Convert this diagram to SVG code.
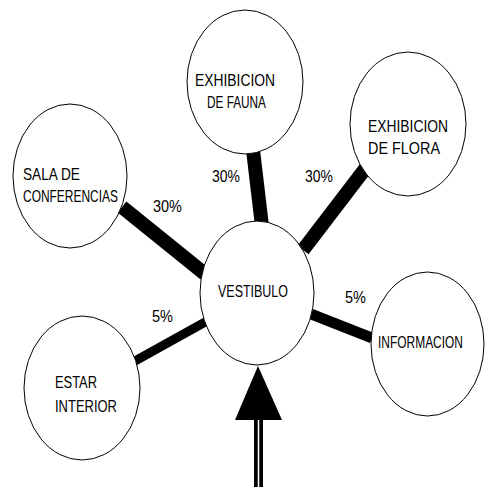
<svg xmlns="http://www.w3.org/2000/svg" width="485" height="487" viewBox="0 0 485 487">
<style>
.n{fill:#fff;stroke:#000;stroke-width:1}
.t{font-family:"Liberation Sans","DejaVu Sans",sans-serif;font-size:16.5px;fill:#000}
.c{stroke:#000;stroke-linecap:butt}
</style>
<rect width="485" height="487" fill="#fff"/>
<g id="connectors">
<line class="c" x1="253" y1="150" x2="262" y2="226" stroke-width="14"/>
<line class="c" x1="368" y1="165" x2="303" y2="250" stroke-width="14"/>
<line class="c" x1="122" y1="207" x2="205" y2="274" stroke-width="14"/>
<line class="c" x1="135" y1="361" x2="207" y2="321" stroke-width="9"/>
<line class="c" x1="311" y1="314" x2="372" y2="338" stroke-width="11"/>
<text class="t" x="212" y="182" textLength="28" lengthAdjust="spacingAndGlyphs">30%</text>
<text class="t" x="305" y="182" textLength="28" lengthAdjust="spacingAndGlyphs">30%</text>
<text class="t" x="153" y="212" textLength="29" lengthAdjust="spacingAndGlyphs">30%</text>
<text class="t" x="152" y="322" textLength="21" lengthAdjust="spacingAndGlyphs">5%</text>
<text class="t" x="345" y="303" textLength="21" lengthAdjust="spacingAndGlyphs">5%</text>
<polygon points="258,366 235,420 282,420" fill="#000"/>
<rect x="254" y="420" width="9" height="67" fill="#000"/>
<line x1="258.5" y1="420" x2="258.5" y2="487" stroke="#fff" stroke-width="1.5"/>
</g>
<g id="fauna">
<ellipse class="n" cx="245" cy="82" rx="58" ry="72"/>
<text class="t" x="195" y="86" textLength="80" lengthAdjust="spacingAndGlyphs">EXHIBICION</text>
<text class="t" x="207" y="108" textLength="59" lengthAdjust="spacingAndGlyphs">DE FAUNA</text>
</g>
<g id="flora">
<ellipse class="n" cx="408" cy="124" rx="58" ry="72"/>
<text class="t" x="368" y="132" textLength="80" lengthAdjust="spacingAndGlyphs">EXHIBICION</text>
<text class="t" x="368" y="154" textLength="72" lengthAdjust="spacingAndGlyphs">DE FLORA</text>
</g>
<g id="sala">
<ellipse class="n" cx="70" cy="176" rx="57" ry="72"/>
<text class="t" x="23" y="180" textLength="57" lengthAdjust="spacingAndGlyphs">SALA DE</text>
<text class="t" x="23" y="202" textLength="95" lengthAdjust="spacingAndGlyphs">CONFERENCIAS</text>
</g>
<g id="vestibulo">
<ellipse class="n" cx="257" cy="293" rx="57" ry="72"/>
<text class="t" x="218" y="297" textLength="70" lengthAdjust="spacingAndGlyphs">VESTIBULO</text>
</g>
<g id="estar">
<ellipse class="n" cx="82" cy="388" rx="58" ry="72"/>
<text class="t" x="55" y="388" textLength="42" lengthAdjust="spacingAndGlyphs">ESTAR</text>
<text class="t" x="55" y="412" textLength="62" lengthAdjust="spacingAndGlyphs">INTERIOR</text>
</g>
<g id="informacion">
<ellipse class="n" cx="427.5" cy="344" rx="56.5" ry="72"/>
<text class="t" x="378" y="348" textLength="85" lengthAdjust="spacingAndGlyphs">INFORMACION</text>
</g>
</svg>
